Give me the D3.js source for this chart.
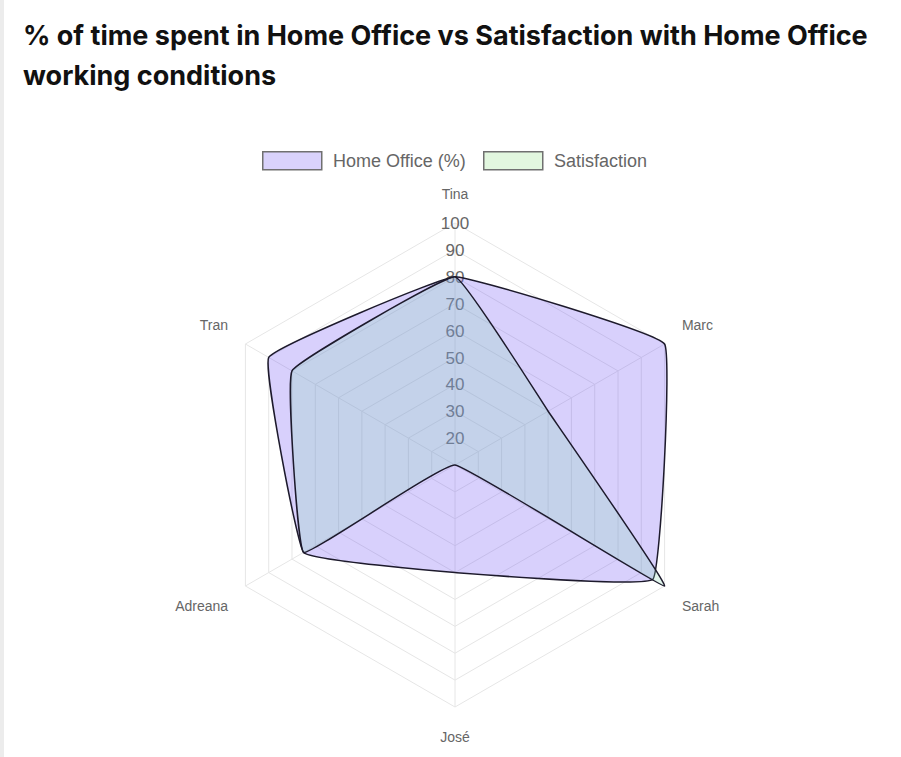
<!DOCTYPE html>
<html>
<head>
<meta charset="utf-8">
<script src="https://cdn.jsdelivr.net/npm/d3@7"></script>
<style>
    body { margin: 0; background: #fff; }
    #chart { width: 901px; height: 757px; }
    .title { font-family: Inter, "Noto Sans", sans-serif; font-weight: 700; fill: #111; }
    .tick-label { font-family: "Liberation Sans", Arial, sans-serif; font-size: 17px; fill: #666; }
    .point-label { font-family: "Liberation Sans", Arial, sans-serif; font-size: 14px; fill: #666; }
    .legend-label { font-family: "Liberation Sans", Arial, sans-serif; font-size: 18px; fill: #666; }
</style>
</head>
<body>
<div id="chart"></div>
<script>

var people = ["Tina", "Marc", "Sarah", "José", "Adreana", "Tran"];
var homeOffice = [80, 100, 95, 50, 75, 90];
var satisfaction = [80, 50, 100, 10, 75, 80];
var ticks = [20, 30, 40, 50, 60, 70, 80, 90, 100];
var seriesNames = ["Home Office (%)", "Satisfaction"];
var titleLines = ["% of time spent in Home Office vs Satisfaction with Home Office", "working conditions"];

var chart = {};
chart.width = 901;
chart.height = 757;
chart.cx = 455;
chart.cy = 465;

chart.svg = d3.select("#chart")
    .append("svg")
    .attr("width", chart.width)
    .attr("height", chart.height);

// grey strip on the left edge of the page
chart.svg.append("rect")
    .attr("x", 0).attr("y", 0)
    .attr("width", 4).attr("height", chart.height)
    .attr("fill", "#ececec");

/*
TITLE
*/
chart.svg.selectAll(".title")
    .data(titleLines)
    .enter()
    .append("text")
    .attr("class", "title")
    .attr("x", 23)
    .attr("y", function(d, i) { return 45 + i * 40; })
    .style("font-size", "27px")
    .text(function(d) { return d; });

/*
SCALES
*/
chart.rScale = d3.scaleLinear()
    .domain([10, 100])
    .range([0, 242]);

chart.angle = d3.scalePoint()
    .domain(people)
    .range([0, 2 * Math.PI * (people.length - 1) / people.length]);

function pointAt(name, r) {
    var a = chart.angle(name) - Math.PI / 2;
    return [chart.cx + r * Math.cos(a), chart.cy + r * Math.sin(a)];
}

var g = chart.svg.append("g");

/*
GRID
*/
g.selectAll(".ring")
    .data(ticks)
    .enter()
    .append("polygon")
    .attr("class", "ring")
    .attr("points", function(t) {
        return people.map(function(p) { return pointAt(p, chart.rScale(t)).join(","); }).join(" ");
    })
    .attr("fill", "none")
    .attr("stroke", "#e6e6e6")
    .attr("stroke-width", 1);

g.selectAll(".spoke")
    .data(people)
    .enter()
    .append("line")
    .attr("class", "spoke")
    .attr("x1", chart.cx)
    .attr("y1", chart.cy)
    .attr("x2", function(p) { return pointAt(p, chart.rScale(100))[0]; })
    .attr("y2", function(p) { return pointAt(p, chart.rScale(100))[1]; })
    .attr("stroke", "#e6e6e6")
    .attr("stroke-width", 1);

/*
TICK LABELS
*/
g.selectAll(".tick-label")
    .data(ticks)
    .enter()
    .append("text")
    .attr("class", "tick-label")
    .attr("x", chart.cx)
    .attr("y", function(t) { return chart.cy - chart.rScale(t); })
    .attr("dy", "0.36em")
    .attr("text-anchor", "middle")
    .text(function(t) { return t; });

/*
POINT LABELS
*/
g.selectAll(".point-label")
    .data(people)
    .enter()
    .append("text")
    .attr("class", "point-label")
    .each(function(p) {
        var a = chart.angle(p) - Math.PI / 2;
        var pos = pointAt(p, chart.rScale(100) + 20);
        var c = Math.cos(a), s = Math.sin(a);
        d3.select(this)
            .attr("x", pos[0])
            .attr("y", pos[1])
            .attr("text-anchor", Math.abs(c) < 0.01 ? "middle" : (c > 0 ? "start" : "end"))
            .attr("dy", s < 0 ? "-0.3em" : "1.05em");
    })
    .text(function(p) { return p; });

/*
DATASETS  (Home Office drawn first, Satisfaction over it)
*/
chart.line = d3.lineRadial()
    .angle(function(d, i) { return chart.angle(people[i]); })
    .radius(function(d) { return chart.rScale(d); })
    .curve(d3.curveCardinalClosed.tension(0.78));

var series = [
    { name: seriesNames[0], values: homeOffice, fill: "rgba(110, 80, 245, 0.27)" },
    { name: seriesNames[1], values: satisfaction, fill: "rgba(136, 216, 178, 0.25)" }
];

g.selectAll(".area")
    .data(series)
    .enter()
    .append("path")
    .attr("class", "area")
    .attr("transform", "translate(" + chart.cx + "," + chart.cy + ")")
    .attr("d", function(d) { return chart.line(d.values); })
    .attr("fill", function(d) { return d.fill; })
    .attr("stroke", "#1d1a2c")
    .attr("stroke-width", 1.5)
    .attr("stroke-linejoin", "round");

/*
LEGEND
*/
var legendItems = [
    { name: seriesNames[0], fill: "#d9d2fb", x: 262 },
    { name: seriesNames[1], fill: "#e2f7df", x: 483 }
];

var legend = chart.svg.selectAll(".legend")
    .data(legendItems)
    .enter()
    .append("g")
    .attr("class", "legend")
    .attr("transform", function(d) { return "translate(" + d.x + ",151)"; });

legend.append("rect")
    .attr("x", 0.75).attr("y", 0.75)
    .attr("width", 59).attr("height", 18)
    .attr("fill", function(d) { return d.fill; })
    .attr("stroke", "#707070")
    .attr("stroke-width", 1.5);

legend.append("text")
    .attr("class", "legend-label")
    .attr("x", 71)
    .attr("y", 10)
    .attr("dy", "0.35em")
    .text(function(d) { return d.name; });

</script>
</body>
</html>
